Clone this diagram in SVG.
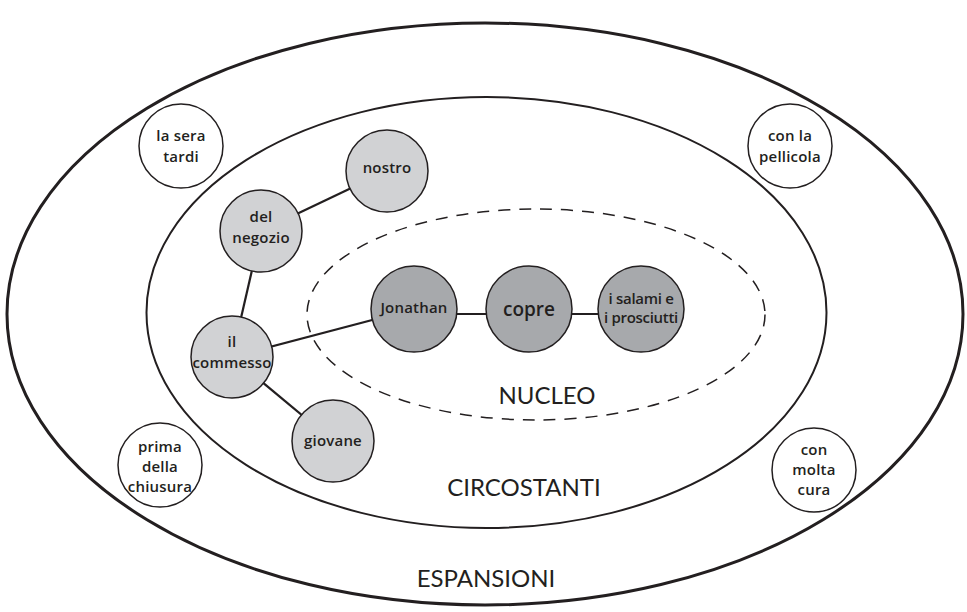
<svg xmlns="http://www.w3.org/2000/svg" width="967" height="612" viewBox="0 0 967 612">
<style>
.ring{fill:none;stroke:#231f20;stroke-width:3}
.mid{fill:none;stroke:#231f20;stroke-width:2}
.dash{fill:none;stroke:#231f20;stroke-width:1.5;stroke-dasharray:12 9}
.edge{stroke:#231f20;stroke-width:2.2}
.light{fill:#d1d2d4;stroke:#231f20;stroke-width:1.5}
.dark{fill:#a7a9ac;stroke:#231f20;stroke-width:1.5}
.white{fill:#fff;stroke:#231f20;stroke-width:1.5}
text{fill:#231f20;text-anchor:middle}
.t{font-family:"Open Sans",Lato,sans-serif;font-size:15px;font-weight:600;letter-spacing:0.2px}
.big{font-family:"Open Sans",Lato,sans-serif;font-size:19px;font-weight:600}
.lbl{font-family:Lato,"Open Sans",sans-serif;font-size:24px;font-weight:400}
</style>
<rect width="967" height="612" fill="#fff"/>
<g id="zones">
<ellipse class="ring" cx="485" cy="314" rx="478" ry="291"/>
<ellipse class="mid" cx="486.5" cy="312.5" rx="340" ry="215.5"/>
<ellipse class="dash" cx="536" cy="314.5" rx="229" ry="105.5"/>
<text class="lbl" x="547" y="404">NUCLEO</text>
<text class="lbl" x="524" y="496">CIRCOSTANTI</text>
<text class="lbl" x="486" y="587">ESPANSIONI</text>
</g>
<g id="connectors">
<line class="edge" x1="387" y1="171" x2="261" y2="231"/>
<line class="edge" x1="261" y1="231" x2="232" y2="357"/>
<line class="edge" x1="232" y1="357" x2="414" y2="309"/>
<line class="edge" x1="232" y1="357" x2="333" y2="441"/>
<line class="edge" x1="414" y1="314" x2="641" y2="314"/>
</g>
<g id="n-nostro"><circle class="light" cx="387" cy="171" r="41"/><text class="t" x="387" y="173">nostro</text></g>
<g id="n-negozio"><circle class="light" cx="261" cy="231" r="41"/><text class="t" x="261" y="222">del</text><text class="t" x="261" y="243">negozio</text></g>
<g id="n-commesso"><circle class="light" cx="232" cy="357" r="41"/><text class="t" x="232" y="347">il</text><text class="t" x="232" y="368">commesso</text></g>
<g id="n-giovane"><circle class="light" cx="333" cy="441" r="41"/><text class="t" x="333" y="446">giovane</text></g>
<g id="n-jonathan"><circle class="dark" cx="414" cy="309" r="43"/><text class="t" x="414" y="313">Jonathan</text></g>
<g id="n-copre"><circle class="dark" cx="529" cy="309" r="43"/><text class="big" x="529" y="316">copre</text></g>
<g id="n-salami"><circle class="dark" cx="641" cy="309" r="43"/><text class="t" x="641" y="304" style="letter-spacing:-0.3px">i salami e</text><text class="t" x="641" y="323" style="letter-spacing:-0.3px">i prosciutti</text></g>
<g id="n-sera"><circle class="white" cx="181" cy="146" r="42"/><text class="t" x="181" y="141">la sera</text><text class="t" x="181" y="162">tardi</text></g>
<g id="n-pellicola"><circle class="white" cx="790" cy="146" r="42"/><text class="t" x="790" y="141">con la</text><text class="t" x="790" y="162">pellicola</text></g>
<g id="n-chiusura"><circle class="white" cx="160" cy="465" r="42"/><text class="t" x="160" y="452">prima</text><text class="t" x="160" y="472">della</text><text class="t" x="160" y="492">chiusura</text></g>
<g id="n-cura"><circle class="white" cx="814" cy="470" r="42"/><text class="t" x="814" y="455">con</text><text class="t" x="814" y="475">molta</text><text class="t" x="814" y="495">cura</text></g>
</svg>
